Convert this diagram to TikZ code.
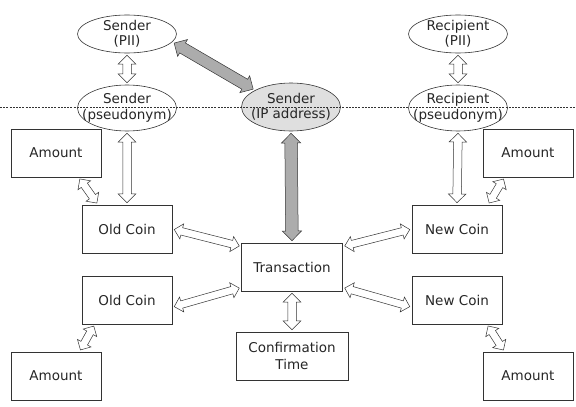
\documentclass[tikz,border=0pt]{standalone}
\usepackage{fontspec}
\setmainfont{DejaVu Sans}
\usetikzlibrary{calc, shapes.geometric, shapes.arrows}
\tikzset{%
  % Specifications for style of nodes:
            box/.style = {rectangle, draw=black!80, line width=0.6pt,
                            minimum width=90pt, minimum height=48pt, inner sep=0pt,
                            align=center, text=black!85, font=\fontsize{13.5}{17}\selectfont},
            ell/.style = {ellipse, draw=black!80, line width=0.6pt,
                            minimum width=99pt, minimum height=46pt, inner sep=0pt,
                            label={[lbl]center:#1}},
            lbl/.style = {align=center, text=black!85, inner sep=0pt,
                            font=\fontsize{13.5}{15.5}\selectfont},
  % Specifications for the fat double arrows:
            fat/.style = {double arrow, draw=black!80, line width=0.5pt, fill=white,
                            inner xsep=0pt, minimum width=0pt},
            fatS/.style = {fat, inner ysep=3.5pt, double arrow head extend=4pt},
            fatM/.style = {fat, inner ysep=4pt, double arrow head extend=4.5pt},
            fatG/.style = {fat, fill=gray!65, inner ysep=5.5pt, double arrow head extend=4pt}
}
\newcommand\fatlink[3]{%
  \path let \p1 = ($(#3)-(#2)$), \n1 = {atan2(\y1,\x1)}, \n2 = {veclen(\x1,\y1)-4} in
    node[#1, minimum height=\n2, rotate=\n1] at ($(#2)!0.5!(#3)$) {};
}

\begin{document}
\begin{tikzpicture}[x=1pt, y=-1pt, node distance=71pt]
\useasboundingbox (0,0) rectangle (576,407);
                        \node (spii)[ell={Sender\\(PII)}, minimum height=38pt] at (127,34) {};
                        \node (spseu)[ell={Sender\\(pseudonym)}] at (127,108) {};
                        \node (sip)[ell={Sender\\(IP address)}, fill=gray!25, minimum height=48pt] at (291,107) {};
                        \node (rpii)[ell={Recipient\\(PII)}, minimum height=38pt] at (458,34) {};
                        \node (rpseu)[ell={Recipient\\(pseudonym)}] at (458,108) {};
                        \node (amtA)[box] at (56,153) {Amount};
                        \node (ocA)[box] at (127,229) {Old Coin};
                        \node (ocB)[box, below of=ocA] {Old Coin};
                        \node (amtB)[box] at (56,376) {Amount};
                        \node (tx)[box, minimum width=101pt] at (292,267) {Transaction};
                        \node (ct)[box, minimum width=112pt] at (292,356) {Confirmation\\Time};
                        \node (amtC)[box] at (528,153) {Amount};
                        \node (ncA)[box] at (457,229) {New Coin};
                        \node (ncB)[box, below of=ncA] {New Coin};
                        \node (amtD)[box] at (528,376) {Amount};
                        \fatlink{fatM}{spii.south}{spseu.north}
                        \fatlink{fatM}{rpii.south}{rpseu.north}
                        \fatlink{fatM}{spseu.south}{ocA.north}
                        \fatlink{fatM}{rpseu.south}{ncA.north}
                        \fatlink{fatG}{spii.-10}{sip.155}
                        \fatlink{fatG, inner ysep=6pt, double arrow head extend=3.5pt}{sip.south}{tx.north}
                        \fatlink{fatS}{amtA.-47}{ocA.140}
                        \fatlink{fatS}{amtC.-134}{ncA.38}
                        \fatlink{fatS}{ocB.-143}{amtB.46}
                        \fatlink{fatS}{ncB.-39}{amtD.134}
                        \fatlink{fatS}{ocA.east}{tx.158}
                        \fatlink{fatS}{ocB.-9}{tx.202}
                        \fatlink{fatS}{tx.22}{ncA.west}
                        \fatlink{fatS}{tx.-22}{ncB.189}
                        \fatlink{fatM}{tx.south}{ct.north}
                        \draw[black!80, line width=0.6pt, dash pattern=on 2pt off 1.2pt] (0,107) -- (576,107);
                    \end{tikzpicture}
\end{document}
